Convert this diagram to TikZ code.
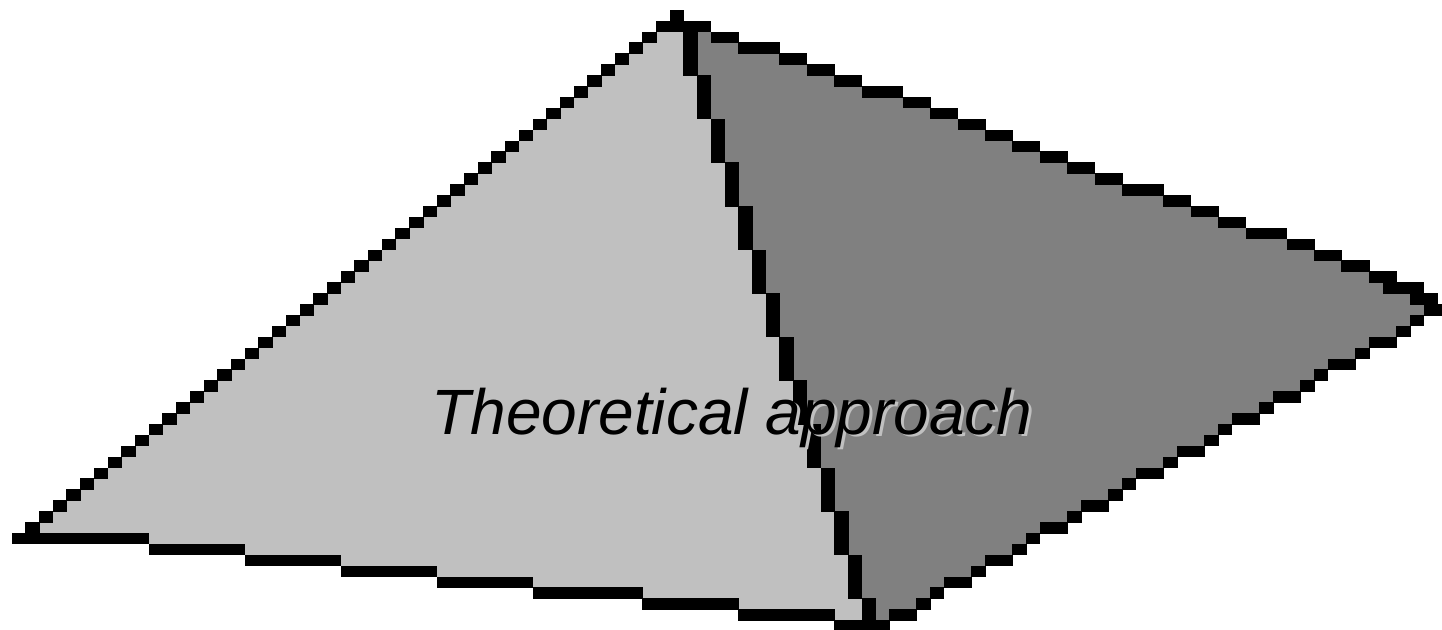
\documentclass[tikz,border=0pt]{standalone}
\usepackage{fontspec}
\setmainfont{Liberation Sans}
\definecolor{faceL}{HTML}{C0C0C0}
\definecolor{faceR}{HTML}{808080}
\newcommand{\pcw}{13.71}
\newcommand{\pch}{10.9}
\newcommand{\pgx}{11.9}
\newcommand{\pgy}{10}
% run of cells in row #1 from column #2 to #3, colour #4
\newcommand{\pxrun}[4]{%
  \fill[#4] ({\pgx+(#2)*\pcw-0.3},{\pgy+(#1)*\pch-0.3}) rectangle ({\pgx+(#3+1)*\pcw+0.3},{\pgy+(#1+1)*\pch+0.3});}
\tikzset{
  lbltext/.style={font=\fontsize{64}{70}\selectfont\itshape, anchor=base, inner sep=0pt},
}
\begin{document}
\begin{tikzpicture}[x=1pt,y=-1pt]
\useasboundingbox (0,0) rectangle (1442,629);
% ---- left face (light grey) ----
\foreach \r in {1,...,48}{
  \pgfmathtruncatemacro\lc{48-\r}
  \pgfmathtruncatemacro\rc{50+floor((\r-6)/4)}
  \pxrun{\r}{\lc}{\rc}{faceL}
}
\foreach \r/\lc in {49/10,50/17,51/24,52/31,53/38,54/46,55/53,56/60}{
  \pgfmathtruncatemacro\rc{50+floor((\r-6)/4)}
  \pxrun{\r}{\lc}{\rc}{faceL}
}
% ---- right face (dark grey) ----
\foreach \r/\ec in {1/50,2/52,3/55,4/57,5/59,6/61,7/64,8/66,9/68,10/70,11/72,12/74,13/76,14/78,15/80,16/83,17/85,18/87,19/89,20/92,21/94,22/96,23/98,24/100,25/102,26/103,27/104,
  28/102,29/101,30/100,31/98,32/97,33/95,34/94,35/93,36/91,37/90,38/88,39/87,40/86,41/84,42/83,43/81,44/80,45/79,46/77,47/76,48/74,49/73,50/72,51/70,52/69,53/67,54/66,55/65,56/63}{
  \pgfmathtruncatemacro\rc{50+floor((\r-6)/4)}
  \pxrun{\r}{\rc}{\ec}{faceR}
}
% ---- outlines (black pixel steps) ----
\pxrun{0}{48}{48}{black}
\pxrun{1}{47}{50}{black}
% left edge
\foreach \r in {2,...,48}{
  \pgfmathtruncatemacro\lc{48-\r}
  \pxrun{\r}{\lc}{\lc}{black}
}
% ridge
\foreach \r in {2,...,56}{
  \pgfmathtruncatemacro\rc{50+floor((\r-6)/4)}
  \pxrun{\r}{\rc}{\rc}{black}
}
% top-right edge
\foreach \r/\a/\b in {2/51/52,3/53/55,4/56/57,5/58/59,6/60/61,7/62/64,8/65/66,9/67/68,10/69/70,11/71/72,12/73/74,13/75/76,14/77/78,15/79/80,16/81/83,17/84/85,18/86/87,19/88/89,20/90/92,21/93/94,22/95/96,23/97/98,24/99/100,25/100/102,26/102/103,27/103/104}{
  \pxrun{\r}{\a}{\b}{black}
}
% bottom-right edge
\foreach \r/\a/\b in {28/102/102,29/101/101,30/99/100,31/98/98,32/96/97,33/95/95,34/94/94,35/92/93,36/91/91,37/89/90,38/88/88,39/87/87,40/85/86,41/84/84,42/82/83,43/81/81,44/80/80,45/78/79,46/77/77,47/75/76,48/74/74,49/73/73,50/71/72,51/70/70,52/68/69,53/67/67,54/66/66,55/64/65}{
  \pxrun{\r}{\a}{\b}{black}
}
% bottom edge
\foreach \r/\a/\b in {48/0/9,49/10/16,50/17/23,51/24/30,52/31/37,53/38/45,54/46/52,55/53/59,56/60/63}{
  \pxrun{\r}{\a}{\b}{black}
}
% ---- label with shadow ----
\node[lbltext, text=faceL] (lblshadow) at (735,436.5) {Theoretical approach};
\node[lbltext, text=black] (lbl) at (732,434) {Theoretical approach};
\end{tikzpicture}
\end{document}
